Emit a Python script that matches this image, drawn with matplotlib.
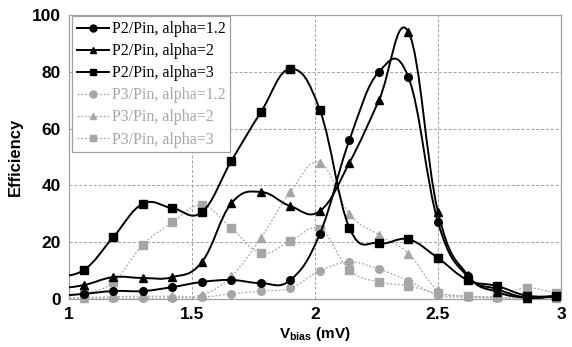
import numpy as np
import matplotlib.pyplot as plt
from matplotlib.path import Path
from matplotlib.patches import PathPatch
from matplotlib.lines import Line2D

# bias voltage of each computed point (mV); the first one sits just left of the axis
v_bias = [0.94, 1.06, 1.18, 1.30, 1.42, 1.54, 1.66, 1.78, 1.90,
          2.02, 2.14, 2.26, 2.38, 2.50, 2.62, 2.74, 2.86, 2.98]

p2_alpha12 = [1.0, 1.8, 2.8, 2.8, 4.2, 6.0, 6.7, 5.6, 6.7,
              23.0, 56.0, 80.0, 78.0, 27.0, 8.0, 3.5, 0.5, 1.0]
p2_alpha2 = [3.5, 4.9, 7.7, 7.4, 7.7, 13.0, 33.7, 37.7, 32.7,
             31.0, 48.0, 70.0, 94.0, 30.6, 8.5, 2.5, 0.5, 1.0]
p2_alpha3 = [8.0, 10.2, 21.8, 33.5, 32.0, 30.6, 48.6, 65.8, 81.0,
             66.5, 25.0, 19.7, 21.0, 14.4, 6.7, 4.6, 1.2, 1.0]

p3_alpha12 = [0.0, 0.2, 0.3, 0.3, 0.4, 0.6, 1.8, 2.8, 3.9,
              9.9, 13.0, 10.5, 6.4, 1.4, 0.6, 0.4, 0.3, 0.4]
p3_alpha2 = [0.3, 0.5, 0.8, 1.0, 1.0, 1.5, 8.0, 21.5, 37.7,
             48.0, 30.0, 22.5, 16.0, 3.0, 1.0, 0.6, 0.3, 0.5]
p3_alpha3 = [1.0, 2.0, 6.0, 19.0, 27.0, 33.0, 25.0, 16.2, 20.4,
             24.6, 10.2, 6.0, 4.6, 2.0, 1.0, 1.0, 3.9, 2.0]

series = [
    ("P2/Pin, alpha=1.2", p2_alpha12, "o", "black"),
    ("P2/Pin, alpha=2", p2_alpha2, "^", "black"),
    ("P2/Pin, alpha=3", p2_alpha3, "s", "black"),
    ("P3/Pin, alpha=1.2", p3_alpha12, "o", "#a6a6a6"),
    ("P3/Pin, alpha=2", p3_alpha2, "^", "#a6a6a6"),
    ("P3/Pin, alpha=3", p3_alpha3, "s", "#a6a6a6"),
]

plt.rcParams['font.family'] = ['Liberation Sans', 'DejaVu Sans']
plt.rcParams['mathtext.fontset'] = 'custom'
plt.rcParams['mathtext.bf'] = 'Liberation Sans:bold'
plt.rcParams['mathtext.rm'] = 'Liberation Sans:bold'


def smooth_path(x, y, k=5.0):
    """Excel-style smoothed line: cubic bezier segments through the points."""
    pts = np.column_stack([x, y])
    n = len(pts)
    verts = [pts[0]]
    codes = [Path.MOVETO]
    for i in range(n - 1):
        p_prev = pts[max(i - 1, 0)]
        p0 = pts[i]
        p1 = pts[i + 1]
        p_next = pts[min(i + 2, n - 1)]
        c1 = p0 + (p1 - p_prev) / k
        c2 = p1 - (p_next - p0) / k
        verts += [c1, c2, p1]
        codes += [Path.CURVE4] * 3
    return Path(verts, codes)


fig = plt.figure(figsize=(5.72, 3.47), dpi=100)
ax = fig.add_axes([0.1206, 0.1383, 0.8602, 0.8185])

x = np.array(v_bias)
visible = (x >= 1) & (x <= 3)
handles = []
for label, vals, marker, color in series:
    y = np.array(vals)
    if color == "black":
        lw, ls = 1.4, "-"
    else:
        lw, ls = 0.9, (0, (1.5, 1.5))
    patch = PathPatch(smooth_path(x, y), facecolor="none", edgecolor=color,
                      lw=lw, linestyle=ls, zorder=3 if color == "black" else 2)
    ax.add_patch(patch)
    ax.plot(x[visible], y[visible], linestyle="none", marker=marker,
            markersize=5.5, color=color, clip_on=False,
            zorder=4 if color == "black" else 2.5)
    handles.append(Line2D([], [], color=color, lw=lw, linestyle=ls,
                          marker=marker, markersize=5))

ax.set_xlim(1, 3)
ax.set_ylim(0, 100)
ax.set_xticks([1, 1.5, 2, 2.5, 3])
ax.set_xticklabels(["1", "1.5", "2", "2.5", "3"])
ax.set_yticks([0, 20, 40, 60, 80, 100])
ax.tick_params(length=0, labelsize=12.5, pad=6)
for lab in ax.get_xticklabels() + ax.get_yticklabels():
    lab.set_fontweight("bold")

ax.grid(True, color="#a0a0a0", linestyle=(0, (3, 2)), linewidth=0.7)
for sp in ax.spines.values():
    sp.set_color("#a0a0a0")
    sp.set_linewidth(0.9)

ax.set_ylabel("Efficiency", fontsize=12, fontweight="bold", labelpad=6)
ax.set_xlabel(r"V$_{\mathbf{bias}}$ (mV)", fontsize=11, fontweight="bold",
              labelpad=2)

leg = ax.legend(handles, [s[0] for s in series], loc="upper left",
                bbox_to_anchor=(0.006, 0.995), fancybox=False,
                edgecolor="#a0a0a0", framealpha=1,
                prop={"family": "Liberation Serif", "size": 11.5},
                labelspacing=0.38, handlelength=2.0, handletextpad=0.2,
                borderpad=0.3, borderaxespad=0)
leg.get_frame().set_linewidth(0.9)
for txt, (_, _, _, color) in zip(leg.get_texts(), series):
    txt.set_color(color)

fig.savefig("out.png", dpi=100)
